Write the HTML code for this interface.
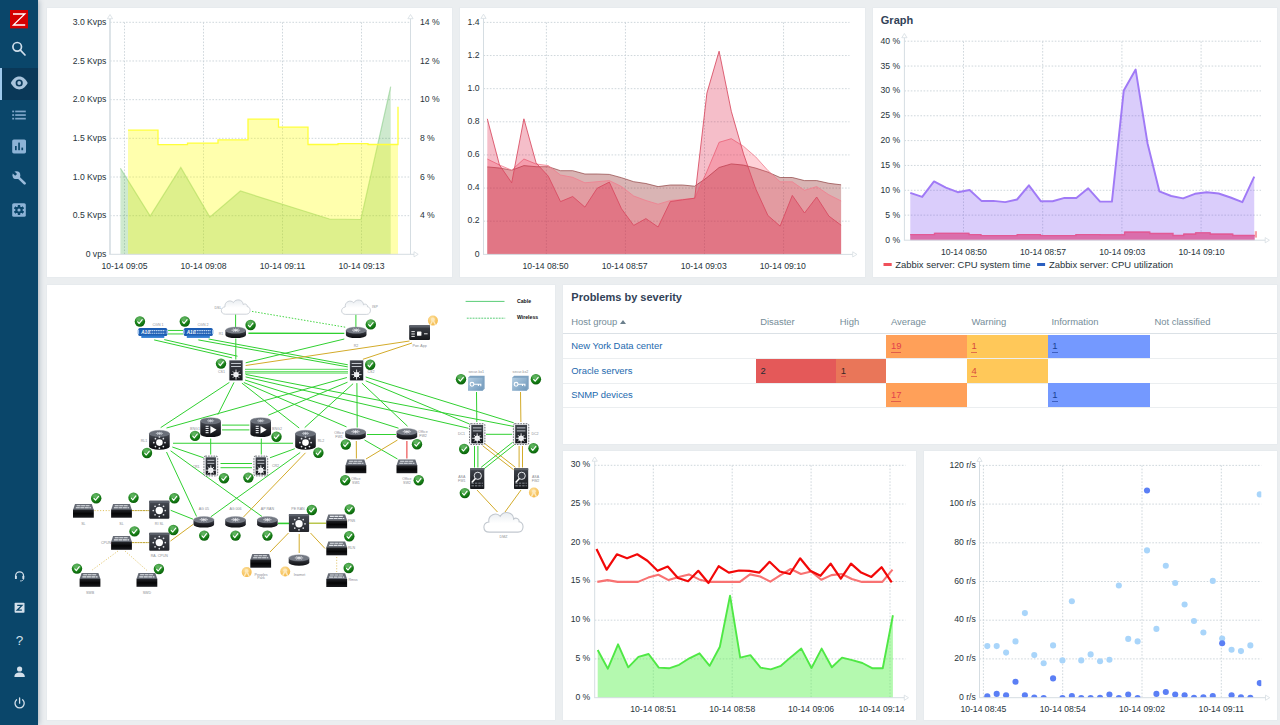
<!DOCTYPE html>
<html lang="en"><head><meta charset="utf-8"><title>Zabbix dashboard</title>
<style>
html,body{margin:0;padding:0}
body{width:1280px;height:725px;overflow:hidden;background:#ebeef0;position:relative;font-family:"Liberation Sans", sans-serif;color:#1f2c33}
.sb{position:absolute;left:0;top:0;width:38px;height:725px;background:#0a466a;box-shadow:0 0 6px rgba(10,40,70,.38)}
.sb .act{position:absolute;left:0;top:67.6px;width:38px;height:32.4px;background:#0a3858}
.sb .act i{position:absolute;left:0;top:0;width:2.4px;height:100%;background:#9ec8ec}
.p{position:absolute;background:#fff;box-shadow:0 0 0 .5px #e3e8eb}
svg.ov{position:absolute;left:0;top:0;width:1280px;height:725px;font-family:"Liberation Sans", sans-serif}
.tb{position:absolute;left:562.8px;top:285px;width:714.6px;height:159px;font-size:9.43px}
.tb div{position:absolute;white-space:nowrap}
.tb .h{color:#768d99;top:30.7px;line-height:12px}
.tb .ln{left:0;width:714.6px;height:1px;background:#ebeef0}
.tb .c{height:23.8px}
.tb .t{line-height:12px}
.tb a{color:#2369ae;text-decoration:none}
.u{display:inline-block;line-height:10.6px;border-bottom:1px solid rgba(200,40,60,.55)}
.ub{border-bottom-color:rgba(20,50,140,.55)}
.tri{display:inline-block;width:0;height:0;border-left:3.1px solid transparent;border-right:3.1px solid transparent;border-bottom:4.5px solid #6b7f8c;margin-left:-.1px;position:relative;top:-.6px}
</style></head><body>

<div class="sb"><div class="act"><i></i></div></div>
<div class="p" style="left:47px;top:8px;width:405px;height:269px"></div>
<div class="p" style="left:459.7px;top:8px;width:405px;height:269px"></div>
<div class="p" style="left:872.6px;top:8px;width:404.8px;height:269px"></div>
<div class="p" style="left:47px;top:285px;width:508.2px;height:435px"></div>
<div class="p" style="left:562.8px;top:285px;width:714.6px;height:159.2px"></div>
<div class="p" style="left:562.8px;top:451px;width:353.4px;height:269px"></div>
<div class="p" style="left:924px;top:451px;width:353.4px;height:269px"></div>
<div class="tb"><div class="h" style="left:8.4px">Host group <i class="tri"></i></div><div class="h" style="left:197.4px">Disaster</div><div class="h" style="left:277px">High</div><div class="h" style="left:328.2px">Average</div><div class="h" style="left:408.7px">Warning</div><div class="h" style="left:488.6px">Information</div><div class="h" style="left:591.6px">Not classified</div><div class="ln" style="top:47.8px;height:1.3px;background:#dbe1e6"></div><div class="ln" style="top:73.2px"></div><div class="ln" style="top:97.6px"></div><div class="ln" style="top:122px"></div><div class="t" style="left:8.4px;top:55.2px"><a>New York Data center</a></div><div class="t" style="left:8.4px;top:79.6px"><a>Oracle servers</a></div><div class="t" style="left:8.4px;top:104px"><a>SNMP devices</a></div><div class="c" style="left:323.5px;top:49.5px;width:80.6px;background:#ffa059"></div><div class="t" style="left:328.1px;top:55.3px;color:#e2404c"><span class="u">19</span></div><div class="c" style="left:404.1px;top:49.5px;width:80.8px;background:#ffc859"></div><div class="t" style="left:408.7px;top:55.3px;color:#d8483c"><span class="u">1</span></div><div class="c" style="left:484.9px;top:49.5px;width:102.3px;background:#7499ff"></div><div class="t" style="left:489.5px;top:55.3px;color:#1a3f94"><span class="u ub">1</span></div><div class="c" style="left:193.1px;top:73.9px;width:80.3px;background:#e45959"></div><div class="t" style="left:197.7px;top:79.7px;color:#1f2c33"><span>2</span></div><div class="c" style="left:273.4px;top:73.9px;width:50.1px;background:#e97659"></div><div class="t" style="left:278px;top:79.7px;color:#3a2626"><span class="u">1</span></div><div class="c" style="left:404.1px;top:73.9px;width:80.8px;background:#ffc859"></div><div class="t" style="left:408.7px;top:79.7px;color:#d8483c"><span class="u">4</span></div><div class="c" style="left:323.5px;top:98.3px;width:80.6px;background:#ffa059"></div><div class="t" style="left:328.1px;top:104.1px;color:#e2404c"><span class="u">17</span></div><div class="c" style="left:484.9px;top:98.3px;width:102.3px;background:#7499ff"></div><div class="t" style="left:489.5px;top:104.1px;color:#1a3f94"><span class="u ub">1</span></div></div>
<svg class="ov" viewBox="0 0 1280 725">
<rect x="10" y="10" width="18" height="18.4" fill="#d40000"/><path d="M13 14 H24.8 L13.4 25 H25.2" fill="none" stroke="#fff" stroke-width="1.3" stroke-linejoin="miter"/><g fill="none" stroke="#cfdeeb" stroke-width="1.7"><circle cx="17.2" cy="46.8" r="4.3"/><path d="M20.4 50.2 L25 55" stroke-linecap="round"/></g><path d="M10.8 83 C13.5 78 16.5 76.6 19.2 76.6 C22 76.6 25 78 27.7 83 C25 88 22 89.4 19.2 89.4 C16.5 89.4 13.5 88 10.8 83 Z" fill="#a9c4dc"/><circle cx="19.2" cy="83" r="3.6" fill="#0b3a5c"/><circle cx="19.2" cy="83" r="1.9" fill="#a9c4dc"/><g fill="#7fa6c9"><rect x="12.2" y="110.6" width="1.9" height="1.7"/><rect x="15.2" y="110.6" width="10.6" height="1.7"/><rect x="12.2" y="114.2" width="1.9" height="1.7"/><rect x="15.2" y="114.2" width="10.6" height="1.7"/><rect x="12.2" y="117.8" width="1.9" height="1.7"/><rect x="15.2" y="117.8" width="10.6" height="1.7"/></g><rect x="12.2" y="139.4" width="13.8" height="14" rx="1.6" fill="#8db3d6"/><g fill="#0a466a"><rect x="15" y="146" width="1.7" height="4.2"/><rect x="18.2" y="142.6" width="1.7" height="7.6"/><rect x="21.4" y="147.6" width="1.7" height="2.6"/></g><path d="M17.6 176.6 L24.6 183.4" stroke="#9bbcdb" stroke-width="2.7" stroke-linecap="round"/><circle cx="16.4" cy="175.2" r="3.9" fill="#9bbcdb"/><rect x="-1.35" y="-6" width="2.7" height="5.6" fill="#0a466a" transform="translate(16.4 175.2) rotate(-45)"/><rect x="12.2" y="203.2" width="13.6" height="13.6" rx="1.6" fill="#8db3d6"/><g transform="translate(19 210)" fill="#0a466a"><rect x="-1.1" y="-5" width="2.2" height="10" transform="rotate(0)"/><rect x="-1.1" y="-5" width="2.2" height="10" transform="rotate(60)"/><rect x="-1.1" y="-5" width="2.2" height="10" transform="rotate(120)"/><rect x="-1.1" y="-5" width="2.2" height="10" transform="rotate(180)"/><rect x="-1.1" y="-5" width="2.2" height="10" transform="rotate(240)"/><rect x="-1.1" y="-5" width="2.2" height="10" transform="rotate(300)"/><circle r="3.5"/><circle r="1.6" fill="#8db3d6"/></g><g transform="translate(19.6 577) scale(0.86) translate(-19.6 -577)"><g fill="none" stroke="#d4e0eb" stroke-width="1.4"><path d="M15 577.5 V575.6 A4.6 4.6 0 0 1 24.2 575.6 V577.5"/><path d="M24.2 579 C24.2 581 22.6 581.6 20.2 581.6" stroke-width="1"/></g><rect x="14.2" y="575.6" width="2.2" height="3.8" rx="0.8" fill="#d4e0eb"/><rect x="22.8" y="575.6" width="2.2" height="3.8" rx="0.8" fill="#d4e0eb"/></g><rect x="14.6" y="602.8" width="9.9" height="9.9" rx="0.8" fill="#d4e0eb"/><path d="M17.2 605.4 H21.9 L17.2 610.2 H21.9" fill="none" stroke="#0a466a" stroke-width="1.3"/><text x="19.6" y="644.6" text-anchor="middle" font-size="13.5" fill="#d4e0eb">?</text><circle cx="19.6" cy="669" r="2.6" fill="#d4e0eb"/><path d="M14.4 677 C14.4 673.4 17 672.4 19.6 672.4 C22.2 672.4 24.8 673.4 24.8 677 Z" fill="#d4e0eb"/><g fill="none" stroke="#d4e0eb" stroke-width="1.3" stroke-linecap="round"><path d="M16.6 699.8 A4.6 4.6 0 1 0 22.6 699.8"/><path d="M19.6 698 V703.2"/></g>
<g stroke="#cad3d8" stroke-width="0.9" stroke-dasharray="1.6 1.6" fill="none"><line x1="110" y1="22.3" x2="410" y2="22.3"/><line x1="110" y1="60.98" x2="410" y2="60.98"/><line x1="110" y1="99.66" x2="410" y2="99.66"/><line x1="110" y1="138.34" x2="410" y2="138.34"/><line x1="110" y1="177.02" x2="410" y2="177.02"/><line x1="110" y1="215.7" x2="410" y2="215.7"/><line x1="124.5" y1="22.3" x2="124.5" y2="254"/><line x1="203.5" y1="22.3" x2="203.5" y2="254"/><line x1="282.5" y1="22.3" x2="282.5" y2="254"/><line x1="361.5" y1="22.3" x2="361.5" y2="254"/></g><polygon points="120.4,254.3 120.4,168.2 150.2,216.1 180.8,167.5 209.8,217.1 240.4,191 329.4,219 360.9,219.5 390.7,86.7 390.7,254.3" fill="#1f9a1f" fill-opacity="0.22"/><polyline points="120.4,168.2 150.2,216.1 180.8,167.5 209.8,217.1 240.4,191 329.4,219 360.9,219.5 390.7,86.7" fill="none" stroke="#7fc97f" stroke-opacity="0.55" stroke-width="1.2"/><polygon points="128,254.3 128,130.2 158,130.2 158,144.6 187.5,144.6 187.5,143.1 218,143.1 218,139.9 248,139.9 248,119.2 278.5,119.2 278.5,127.2 308,127.2 308,144.5 338,144.5 338,143.6 368,143.6 368,144.5 398,144.5 398,106.8 398,254.3" fill="#ffff00" fill-opacity="0.32"/><polyline points="128,130.2 158,130.2 158,144.6 187.5,144.6 187.5,143.1 218,143.1 218,139.9 248,139.9 248,119.2 278.5,119.2 278.5,127.2 308,127.2 308,144.5 338,144.5 338,143.6 368,143.6 368,144.5 398,144.5 398,106.8" fill="none" stroke="#ffff3a" stroke-width="1.3"/><g stroke="#d5dde2" fill="#fff" stroke-width="1.6"><line x1="110" y1="18.5" x2="110" y2="254.3"/><line x1="109.2" y1="254.3" x2="414" y2="254.3" stroke-width="1"/><path d="M110 14.5 l-2.6 4.2 h5.2 z" stroke-width="0.8"/><path d="M418.2 254.3 l-4.2 -2.6 v5.2 z" stroke-width="0.8"/><line x1="410.5" y1="18.5" x2="410.5" y2="254.3" stroke-width="1"/><path d="M410.5 14.5 l-2.6 4.2 h5.2 z" stroke-width="0.8"/></g><text x="106.3" y="25" text-anchor="end" font-size="8.64" fill="#27333a">3.0 Kvps</text><text x="106.3" y="63.68" text-anchor="end" font-size="8.64" fill="#27333a">2.5 Kvps</text><text x="106.3" y="102.36" text-anchor="end" font-size="8.64" fill="#27333a">2.0 Kvps</text><text x="106.3" y="141.04" text-anchor="end" font-size="8.64" fill="#27333a">1.5 Kvps</text><text x="106.3" y="179.72" text-anchor="end" font-size="8.64" fill="#27333a">1.0 Kvps</text><text x="106.3" y="218.4" text-anchor="end" font-size="8.64" fill="#27333a">0.5 Kvps</text><text x="106.3" y="257.08" text-anchor="end" font-size="8.64" fill="#27333a">0 vps</text><text x="419.9" y="25" text-anchor="start" font-size="8.64" fill="#27333a">14 %</text><text x="419.9" y="63.68" text-anchor="start" font-size="8.64" fill="#27333a">12 %</text><text x="419.9" y="102.36" text-anchor="start" font-size="8.64" fill="#27333a">10 %</text><text x="419.9" y="141.04" text-anchor="start" font-size="8.64" fill="#27333a">8 %</text><text x="419.9" y="179.72" text-anchor="start" font-size="8.64" fill="#27333a">6 %</text><text x="419.9" y="218.4" text-anchor="start" font-size="8.64" fill="#27333a">4 %</text><text x="124.5" y="269.3" text-anchor="middle" font-size="8.64" fill="#27333a">10-14 09:05</text><text x="203.5" y="269.3" text-anchor="middle" font-size="8.64" fill="#27333a">10-14 09:08</text><text x="282.5" y="269.3" text-anchor="middle" font-size="8.64" fill="#27333a">10-14 09:11</text><text x="361.5" y="269.3" text-anchor="middle" font-size="8.64" fill="#27333a">10-14 09:13</text>
<g stroke="#cad3d8" stroke-width="0.9" stroke-dasharray="1.6 1.6" fill="none"><line x1="483.5" y1="22.4" x2="849.5" y2="22.4"/><line x1="483.5" y1="55.53" x2="849.5" y2="55.53"/><line x1="483.5" y1="88.66" x2="849.5" y2="88.66"/><line x1="483.5" y1="121.79" x2="849.5" y2="121.79"/><line x1="483.5" y1="154.92" x2="849.5" y2="154.92"/><line x1="483.5" y1="188.05" x2="849.5" y2="188.05"/><line x1="483.5" y1="221.18" x2="849.5" y2="221.18"/><line x1="546.4" y1="22.4" x2="546.4" y2="254"/><line x1="625.45" y1="22.4" x2="625.45" y2="254"/><line x1="704.5" y1="22.4" x2="704.5" y2="254"/><line x1="783.55" y1="22.4" x2="783.55" y2="254"/></g><polygon points="487.3,254.4 487.3,166.9 499.5,168 511.7,170.2 523.9,165.6 536.1,166.7 548.3,166.7 560.5,170.7 572.7,170.7 584.9,174 597.1,174 609.3,174.4 621.5,177.7 633.7,181.7 645.9,183.5 658.1,186.6 670.3,185 682.5,185 694.7,186.2 706.9,177.6 719.1,167.5 731.3,163.9 743.5,165.1 755.7,168.1 767.9,172.1 780.1,177.5 792.3,177.5 804.5,180.6 816.7,180.6 828.9,183.3 841.1,184.8 841.1,254.4" fill="#8b1a1a" fill-opacity="0.33"/><polyline points="487.3,166.9 499.5,168 511.7,170.2 523.9,165.6 536.1,166.7 548.3,166.7 560.5,170.7 572.7,170.7 584.9,174 597.1,174 609.3,174.4 621.5,177.7 633.7,181.7 645.9,183.5 658.1,186.6 670.3,185 682.5,185 694.7,186.2 706.9,177.6 719.1,167.5 731.3,163.9 743.5,165.1 755.7,168.1 767.9,172.1 780.1,177.5 792.3,177.5 804.5,180.6 816.7,180.6 828.9,183.3 841.1,184.8" fill="none" stroke="#8b3a3a" stroke-opacity="0.75" stroke-width="0.9" stroke-linejoin="round"/><polygon points="487.3,254.4 487.3,159 499.5,165 511.7,170.2 523.9,159 536.1,164 548.3,165.6 560.5,175 572.7,177.3 584.9,182.8 597.1,181.7 609.3,180.6 621.5,186.5 633.7,196 645.9,200.5 658.1,204.2 670.3,200.5 682.5,199.4 694.7,198.3 706.9,171.5 719.1,142.3 731.3,138.7 743.5,146.3 755.7,156.9 767.9,170.5 780.1,181.8 792.3,181.8 804.5,190.3 816.7,186.6 828.9,194.8 841.1,200.9 841.1,254.4" fill="#ff5a6e" fill-opacity="0.27"/><polyline points="487.3,159 499.5,165 511.7,170.2 523.9,159 536.1,164 548.3,165.6 560.5,175 572.7,177.3 584.9,182.8 597.1,181.7 609.3,180.6 621.5,186.5 633.7,196 645.9,200.5 658.1,204.2 670.3,200.5 682.5,199.4 694.7,198.3 706.9,171.5 719.1,142.3 731.3,138.7 743.5,146.3 755.7,156.9 767.9,170.5 780.1,181.8 792.3,181.8 804.5,190.3 816.7,186.6 828.9,194.8 841.1,200.9" fill="none" stroke="#f08090" stroke-opacity="0.9" stroke-width="0.9" stroke-linejoin="round"/><polygon points="487.3,254.4 487.3,118.8 499.5,165.1 511.7,182.8 523.9,118.8 536.1,162.9 548.3,176.2 560.5,201.6 572.7,196.5 584.9,207.1 597.1,188.3 609.3,182.1 621.5,208.8 633.7,225.4 645.9,218.6 658.1,227 670.3,201.6 682.5,199.8 694.7,198.2 706.9,93.1 719.1,51.2 731.3,111.3 743.5,153.8 755.7,188.8 767.9,215.5 780.1,226.1 792.3,195.4 804.5,213 816.7,197 828.9,216.1 841.1,225.2 841.1,254.4" fill="#dc143c" fill-opacity="0.28"/><polyline points="487.3,118.8 499.5,165.1 511.7,182.8 523.9,118.8 536.1,162.9 548.3,176.2 560.5,201.6 572.7,196.5 584.9,207.1 597.1,188.3 609.3,182.1 621.5,208.8 633.7,225.4 645.9,218.6 658.1,227 670.3,201.6 682.5,199.8 694.7,198.2 706.9,93.1 719.1,51.2 731.3,111.3 743.5,153.8 755.7,188.8 767.9,215.5 780.1,226.1 792.3,195.4 804.5,213 816.7,197 828.9,216.1 841.1,225.2" fill="none" stroke="#d84a60" stroke-opacity="0.95" stroke-width="0.9" stroke-linejoin="round"/><g stroke="#d5dde2" fill="#fff" stroke-width="1.0"><line x1="483.5" y1="18.2" x2="483.5" y2="254.4"/><line x1="483" y1="254.4" x2="852.7" y2="254.4" stroke-width="1"/><path d="M483.5 14.2 l-2.6 4.2 h5.2 z" stroke-width="0.8"/><path d="M856.9 254.4 l-4.2 -2.6 v5.2 z" stroke-width="0.8"/></g><text x="479.6" y="24.6" text-anchor="end" font-size="8.64" fill="#27333a">1.4</text><text x="479.6" y="57.73" text-anchor="end" font-size="8.64" fill="#27333a">1.2</text><text x="479.6" y="90.86" text-anchor="end" font-size="8.64" fill="#27333a">1.0</text><text x="479.6" y="123.99" text-anchor="end" font-size="8.64" fill="#27333a">0.8</text><text x="479.6" y="157.12" text-anchor="end" font-size="8.64" fill="#27333a">0.6</text><text x="479.6" y="190.25" text-anchor="end" font-size="8.64" fill="#27333a">0.4</text><text x="479.6" y="223.38" text-anchor="end" font-size="8.64" fill="#27333a">0.2</text><text x="479.6" y="256.51" text-anchor="end" font-size="8.64" fill="#27333a">0</text><text x="545.6" y="269.3" text-anchor="middle" font-size="8.64" fill="#27333a">10-14 08:50</text><text x="624.65" y="269.3" text-anchor="middle" font-size="8.64" fill="#27333a">10-14 08:57</text><text x="703.7" y="269.3" text-anchor="middle" font-size="8.64" fill="#27333a">10-14 09:03</text><text x="782.75" y="269.3" text-anchor="middle" font-size="8.64" fill="#27333a">10-14 09:10</text>
<g stroke="#cad3d8" stroke-width="0.9" stroke-dasharray="1.6 1.6" fill="none"><line x1="904.4" y1="41.2" x2="1261" y2="41.2"/><line x1="904.4" y1="66.05" x2="1261" y2="66.05"/><line x1="904.4" y1="90.9" x2="1261" y2="90.9"/><line x1="904.4" y1="115.75" x2="1261" y2="115.75"/><line x1="904.4" y1="140.6" x2="1261" y2="140.6"/><line x1="904.4" y1="165.45" x2="1261" y2="165.45"/><line x1="904.4" y1="190.3" x2="1261" y2="190.3"/><line x1="904.4" y1="215.15" x2="1261" y2="215.15"/><line x1="963.5" y1="41.4" x2="963.5" y2="240"/><line x1="1042.7" y1="41.4" x2="1042.7" y2="240"/><line x1="1121.9" y1="41.4" x2="1121.9" y2="240"/><line x1="1201.1" y1="41.4" x2="1201.1" y2="240"/></g><polygon points="910.3,240.2 910.3,192.8 922.16,196.9 934.02,181.4 945.88,187.6 957.74,192.2 969.6,190 981.46,200.9 993.32,200.9 1005.18,202.1 1017.04,199.5 1028.9,185.3 1040.76,201.2 1052.62,201.2 1064.48,197.9 1076.34,197.9 1088.2,188.3 1100.06,201.6 1111.92,201.6 1123.78,90.4 1135.64,69.6 1147.5,143.2 1159.36,191.3 1171.22,196 1183.08,198.4 1194.94,193.8 1206.8,192.2 1218.66,193.5 1230.52,197.5 1242.38,202.2 1254.24,176.7 1254.24,240.2" fill="#7a4cf0" fill-opacity="0.28"/><polygon points="910.3,240.2 910.3,234 934.5,234 934.5,232.8 969,232.8 969,234 981,234 981,235 1017.2,235 1017.2,234 1040.5,234 1040.5,235 1075.9,235 1075.9,234 1100,234 1100,234.3 1124.6,234.3 1124.6,231.6 1149.8,231.6 1149.8,232.9 1173,232.9 1173,234.9 1183.7,234.9 1183.7,233.6 1195.6,233.6 1195.6,232.3 1210.2,232.3 1210.2,233.6 1232.8,233.6 1232.8,234.9 1254.7,234.9 1254.7,240.2" fill="#da6eac"/><polyline points="910.3,234.6 934.5,234.6 934.5,233.4 969,233.4 969,234.6 981,234.6 981,235.6 1017.2,235.6 1017.2,234.6 1040.5,234.6 1040.5,235.6 1075.9,235.6 1075.9,234.6 1100,234.6 1100,234.9 1124.6,234.9 1124.6,232.2 1149.8,232.2 1149.8,233.5 1173,233.5 1173,235.5 1183.7,235.5 1183.7,234.2 1195.6,234.2 1195.6,232.9 1210.2,232.9 1210.2,234.2 1232.8,234.2 1232.8,235.5 1254.7,235.5" fill="none" stroke="#e25a96" stroke-width="1.4"/><rect x="1254.8" y="231.2" width="2.2" height="6.4" fill="#f4606c" fill-opacity="0.6"/><polyline points="910.3,192.8 922.16,196.9 934.02,181.4 945.88,187.6 957.74,192.2 969.6,190 981.46,200.9 993.32,200.9 1005.18,202.1 1017.04,199.5 1028.9,185.3 1040.76,201.2 1052.62,201.2 1064.48,197.9 1076.34,197.9 1088.2,188.3 1100.06,201.6 1111.92,201.6 1123.78,90.4 1135.64,69.6 1147.5,143.2 1159.36,191.3 1171.22,196 1183.08,198.4 1194.94,193.8 1206.8,192.2 1218.66,193.5 1230.52,197.5 1242.38,202.2 1254.24,176.7" fill="none" stroke="#a07af6" stroke-width="1.95" stroke-linejoin="round"/><g stroke="#d5dde2" fill="#fff" stroke-width="1.0"><line x1="904.4" y1="37.5" x2="904.4" y2="240.2"/><line x1="903.9" y1="240.2" x2="1265.2" y2="240.2" stroke-width="1"/><path d="M904.4 33.5 l-2.6 4.2 h5.2 z" stroke-width="0.8"/><path d="M1269.4 240.2 l-4.2 -2.6 v5.2 z" stroke-width="0.8"/></g><text x="900.2" y="43.7" text-anchor="end" font-size="8.64" fill="#27333a">40 %</text><text x="900.2" y="68.55" text-anchor="end" font-size="8.64" fill="#27333a">35 %</text><text x="900.2" y="93.4" text-anchor="end" font-size="8.64" fill="#27333a">30 %</text><text x="900.2" y="118.25" text-anchor="end" font-size="8.64" fill="#27333a">25 %</text><text x="900.2" y="143.1" text-anchor="end" font-size="8.64" fill="#27333a">20 %</text><text x="900.2" y="167.95" text-anchor="end" font-size="8.64" fill="#27333a">15 %</text><text x="900.2" y="192.8" text-anchor="end" font-size="8.64" fill="#27333a">10 %</text><text x="900.2" y="217.65" text-anchor="end" font-size="8.64" fill="#27333a">5 %</text><text x="900.2" y="242.5" text-anchor="end" font-size="8.64" fill="#27333a">0 %</text><text x="963.9" y="255.1" text-anchor="middle" font-size="8.64" fill="#27333a">10-14 08:50</text><text x="1043.1" y="255.1" text-anchor="middle" font-size="8.64" fill="#27333a">10-14 08:57</text><text x="1122.3" y="255.1" text-anchor="middle" font-size="8.64" fill="#27333a">10-14 09:03</text><text x="1201.5" y="255.1" text-anchor="middle" font-size="8.64" fill="#27333a">10-14 09:10</text><text x="880.8" y="24.2" text-anchor="start" font-size="11" fill="#324257" font-weight="bold">Graph</text><rect x="883.5" y="263" width="8.2" height="3" fill="#f0505a"/><text x="895.3" y="268.3" text-anchor="start" font-size="9.43" fill="#27333a">Zabbix server: CPU system time</text><rect x="1037.1" y="263" width="8" height="3" fill="#2a5fc0"/><text x="1048.9" y="268.3" text-anchor="start" font-size="9.43" fill="#27333a">Zabbix server: CPU utilization</text>
<g stroke="#cad3d8" stroke-width="0.9" stroke-dasharray="1.6 1.6" fill="none"><line x1="594.7" y1="465.3" x2="905.5" y2="465.3"/><line x1="594.7" y1="504.02" x2="905.5" y2="504.02"/><line x1="594.7" y1="542.74" x2="905.5" y2="542.74"/><line x1="594.7" y1="581.46" x2="905.5" y2="581.46"/><line x1="594.7" y1="620.18" x2="905.5" y2="620.18"/><line x1="594.7" y1="658.9" x2="905.5" y2="658.9"/><line x1="653.3" y1="465.3" x2="653.3" y2="697.5"/><line x1="732.2" y1="465.3" x2="732.2" y2="697.5"/><line x1="811.1" y1="465.3" x2="811.1" y2="697.5"/><line x1="890" y1="465.3" x2="890" y2="697.5"/></g><polygon points="597.7,697.7 597.7,650 607.88,668.7 618.06,644.3 628.24,667.3 638.42,656.9 648.6,654 658.78,667.6 668.96,668.3 679.14,664.8 689.32,658.3 699.5,653.3 709.68,665.8 719.86,646.8 730.04,595.6 740.22,657.6 750.4,655.1 760.58,667.6 770.76,669.4 780.94,665.8 791.12,656.9 801.3,648.6 811.48,668 821.66,648.6 831.84,667.3 842.02,657.6 852.2,660.1 862.38,663 872.56,668.3 882.74,668.3 892.92,615.3 892.92,697.7" fill="#5cf250" fill-opacity="0.46"/><polyline points="597.7,650 607.88,668.7 618.06,644.3 628.24,667.3 638.42,656.9 648.6,654 658.78,667.6 668.96,668.3 679.14,664.8 689.32,658.3 699.5,653.3 709.68,665.8 719.86,646.8 730.04,595.6 740.22,657.6 750.4,655.1 760.58,667.6 770.76,669.4 780.94,665.8 791.12,656.9 801.3,648.6 811.48,668 821.66,648.6 831.84,667.3 842.02,657.6 852.2,660.1 862.38,663 872.56,668.3 882.74,668.3 892.92,615.3" fill="none" stroke="#4fe845" stroke-width="1.9" stroke-linejoin="round"/><polyline points="597.3,581.9 607.48,580.1 617.66,581.9 627.84,581.9 638.02,581.9 648.2,577.6 658.38,574.8 668.56,580.1 678.74,576.9 688.92,574.4 699.1,579.4 709.28,581.9 719.46,581.9 729.64,581.9 739.82,581.9 750,574.4 760.18,576.5 770.36,581.6 780.54,575.1 790.72,569 800.9,574 811.08,571.5 821.26,579.8 831.44,575.1 841.62,574 851.8,579 861.98,581.9 872.16,581.9 882.34,581.9 892.52,569.7" fill="none" stroke="#f87272" stroke-width="2.1" stroke-linejoin="round"/><polyline points="596.5,548.9 606.68,569.7 616.86,554.3 627.04,558.3 637.22,554.3 647.4,560.8 657.58,570.8 667.76,566.5 677.94,578 688.12,581.2 698.3,570.8 708.48,583 718.66,566.2 728.84,572.6 739.02,570.5 749.2,570.8 759.38,572.6 769.56,561.8 779.74,571.5 789.92,574 800.1,558.3 810.28,570.8 820.46,575.8 830.64,563.6 840.82,578.7 851,563.6 861.18,572.6 871.36,576.9 881.54,567.2 891.72,582.3" fill="none" stroke="#f20808" stroke-width="2.2" stroke-linejoin="round"/><g stroke="#d5dde2" fill="#fff" stroke-width="1.0"><line x1="594.7" y1="461" x2="594.7" y2="697.7"/><line x1="594.2" y1="697.7" x2="904.3" y2="697.7" stroke-width="1"/><path d="M594.7 457 l-2.6 4.2 h5.2 z" stroke-width="0.8"/><path d="M908.5 697.7 l-4.2 -2.6 v5.2 z" stroke-width="0.8"/></g><text x="590.3" y="467.2" text-anchor="end" font-size="8.64" fill="#27333a">30 %</text><text x="590.3" y="505.92" text-anchor="end" font-size="8.64" fill="#27333a">25 %</text><text x="590.3" y="544.64" text-anchor="end" font-size="8.64" fill="#27333a">20 %</text><text x="590.3" y="583.36" text-anchor="end" font-size="8.64" fill="#27333a">15 %</text><text x="590.3" y="622.08" text-anchor="end" font-size="8.64" fill="#27333a">10 %</text><text x="590.3" y="660.8" text-anchor="end" font-size="8.64" fill="#27333a">5 %</text><text x="590.3" y="699.52" text-anchor="end" font-size="8.64" fill="#27333a">0 %</text><text x="653.3" y="712.2" text-anchor="middle" font-size="8.64" fill="#27333a">10-14 08:51</text><text x="732.2" y="712.2" text-anchor="middle" font-size="8.64" fill="#27333a">10-14 08:58</text><text x="811.1" y="712.2" text-anchor="middle" font-size="8.64" fill="#27333a">10-14 09:06</text><text x="904.6" y="712.2" text-anchor="end" font-size="8.64" fill="#27333a">10-14 09:14</text>
<g stroke="#cad3d8" stroke-width="0.9" stroke-dasharray="1.6 1.6" fill="none"><line x1="979.5" y1="465.4" x2="1261.3" y2="465.4"/><line x1="979.5" y1="504.1" x2="1261.3" y2="504.1"/><line x1="979.5" y1="542.8" x2="1261.3" y2="542.8"/><line x1="979.5" y1="581.5" x2="1261.3" y2="581.5"/><line x1="979.5" y1="620.2" x2="1261.3" y2="620.2"/><line x1="979.5" y1="658.9" x2="1261.3" y2="658.9"/><line x1="983.4" y1="465.4" x2="983.4" y2="697.5"/><line x1="1062.7" y1="465.4" x2="1062.7" y2="697.5"/><line x1="1142" y1="465.4" x2="1142" y2="697.5"/><line x1="1221.3" y1="465.4" x2="1221.3" y2="697.5"/></g><clipPath id="cb2"><rect x="979" y="455" width="282.3" height="242.7"/></clipPath><g clip-path="url(#cb2)"><circle cx="987.3" cy="646.1" r="3.05" fill="#a9d5fa"/><circle cx="996.69" cy="646.1" r="3.05" fill="#a9d5fa"/><circle cx="1006.09" cy="652.6" r="3.05" fill="#a9d5fa"/><circle cx="1015.48" cy="641.4" r="3.05" fill="#a9d5fa"/><circle cx="1024.88" cy="613.1" r="3.05" fill="#a9d5fa"/><circle cx="1034.27" cy="655.1" r="3.05" fill="#a9d5fa"/><circle cx="1043.67" cy="663.3" r="3.05" fill="#a9d5fa"/><circle cx="1053.07" cy="645.4" r="3.05" fill="#a9d5fa"/><circle cx="1062.46" cy="660.4" r="3.05" fill="#a9d5fa"/><circle cx="1071.86" cy="601.3" r="3.05" fill="#a9d5fa"/><circle cx="1081.25" cy="660.4" r="3.05" fill="#a9d5fa"/><circle cx="1090.64" cy="654.4" r="3.05" fill="#a9d5fa"/><circle cx="1100.04" cy="661.2" r="3.05" fill="#a9d5fa"/><circle cx="1109.43" cy="659.7" r="3.05" fill="#a9d5fa"/><circle cx="1118.83" cy="585.5" r="3.05" fill="#a9d5fa"/><circle cx="1128.22" cy="638.9" r="3.05" fill="#a9d5fa"/><circle cx="1137.62" cy="641.4" r="3.05" fill="#a9d5fa"/><circle cx="1147.01" cy="550.4" r="3.05" fill="#a9d5fa"/><circle cx="1156.41" cy="628.9" r="3.05" fill="#a9d5fa"/><circle cx="1165.8" cy="565.8" r="3.05" fill="#a9d5fa"/><circle cx="1175.2" cy="583" r="3.05" fill="#a9d5fa"/><circle cx="1184.6" cy="604.5" r="3.05" fill="#a9d5fa"/><circle cx="1193.99" cy="621" r="3.05" fill="#a9d5fa"/><circle cx="1203.38" cy="632.5" r="3.05" fill="#a9d5fa"/><circle cx="1212.78" cy="580.9" r="3.05" fill="#a9d5fa"/><circle cx="1222.17" cy="638.6" r="3.05" fill="#a9d5fa"/><circle cx="1231.57" cy="649.7" r="3.05" fill="#a9d5fa"/><circle cx="1240.96" cy="651.1" r="3.05" fill="#a9d5fa"/><circle cx="1250.36" cy="645.4" r="3.05" fill="#a9d5fa"/><circle cx="1259.75" cy="494.4" r="3.05" fill="#a9d5fa"/><circle cx="987.3" cy="696.2" r="3.05" fill="#5b7ff5"/><circle cx="996.69" cy="693.9" r="3.05" fill="#5b7ff5"/><circle cx="1006.09" cy="695.2" r="3.05" fill="#5b7ff5"/><circle cx="1015.48" cy="681.7" r="3.05" fill="#5b7ff5"/><circle cx="1024.88" cy="695.2" r="3.05" fill="#5b7ff5"/><circle cx="1034.27" cy="697.6" r="3.05" fill="#5b7ff5"/><circle cx="1043.67" cy="698" r="3.05" fill="#5b7ff5"/><circle cx="1053.07" cy="678.4" r="3.05" fill="#5b7ff5"/><circle cx="1062.46" cy="698" r="3.05" fill="#5b7ff5"/><circle cx="1071.86" cy="696" r="3.05" fill="#5b7ff5"/><circle cx="1081.25" cy="698" r="3.05" fill="#5b7ff5"/><circle cx="1090.64" cy="698" r="3.05" fill="#5b7ff5"/><circle cx="1100.04" cy="697.8" r="3.05" fill="#5b7ff5"/><circle cx="1109.43" cy="694.6" r="3.05" fill="#5b7ff5"/><circle cx="1118.83" cy="698" r="3.05" fill="#5b7ff5"/><circle cx="1128.22" cy="694.6" r="3.05" fill="#5b7ff5"/><circle cx="1137.62" cy="698" r="3.05" fill="#5b7ff5"/><circle cx="1147.01" cy="490.5" r="3.05" fill="#5b7ff5"/><circle cx="1156.41" cy="693.9" r="3.05" fill="#5b7ff5"/><circle cx="1165.8" cy="692" r="3.05" fill="#5b7ff5"/><circle cx="1175.2" cy="694.5" r="3.05" fill="#5b7ff5"/><circle cx="1184.6" cy="695.2" r="3.05" fill="#5b7ff5"/><circle cx="1193.99" cy="697.7" r="3.05" fill="#5b7ff5"/><circle cx="1203.38" cy="697.4" r="3.05" fill="#5b7ff5"/><circle cx="1212.78" cy="696" r="3.05" fill="#5b7ff5"/><circle cx="1222.17" cy="643.2" r="3.05" fill="#5b7ff5"/><circle cx="1231.57" cy="695.3" r="3.05" fill="#5b7ff5"/><circle cx="1240.96" cy="697.2" r="3.05" fill="#5b7ff5"/><circle cx="1250.36" cy="697.7" r="3.05" fill="#5b7ff5"/><circle cx="1259.75" cy="683.1" r="3.05" fill="#5b7ff5"/></g><g stroke="#d5dde2" fill="#fff" stroke-width="1.0"><line x1="979.5" y1="461.2" x2="979.5" y2="697.7"/><line x1="979" y1="697.7" x2="1265.5" y2="697.7" stroke-width="1"/><path d="M979.5 457.2 l-2.6 4.2 h5.2 z" stroke-width="0.8"/><path d="M1269.7 697.7 l-4.2 -2.6 v5.2 z" stroke-width="0.8"/></g><text x="975.8" y="467.5" text-anchor="end" font-size="8.64" fill="#27333a">120 r/s</text><text x="975.8" y="506.2" text-anchor="end" font-size="8.64" fill="#27333a">100 r/s</text><text x="975.8" y="544.9" text-anchor="end" font-size="8.64" fill="#27333a">80 r/s</text><text x="975.8" y="583.6" text-anchor="end" font-size="8.64" fill="#27333a">60 r/s</text><text x="975.8" y="622.3" text-anchor="end" font-size="8.64" fill="#27333a">40 r/s</text><text x="975.8" y="661" text-anchor="end" font-size="8.64" fill="#27333a">20 r/s</text><text x="975.8" y="699.7" text-anchor="end" font-size="8.64" fill="#27333a">0 r/s</text><text x="983.4" y="712.2" text-anchor="middle" font-size="8.64" fill="#27333a">10-14 08:45</text><text x="1062.7" y="712.2" text-anchor="middle" font-size="8.64" fill="#27333a">10-14 08:54</text><text x="1142" y="712.2" text-anchor="middle" font-size="8.64" fill="#27333a">10-14 09:02</text><text x="1221.3" y="712.2" text-anchor="middle" font-size="8.64" fill="#27333a">10-14 09:11</text>
<text x="571.3" y="301.2" text-anchor="start" font-size="11" fill="#324257" font-weight="bold">Problems by severity</text>
<defs><linearGradient id="gcyl" x1="0" y1="0" x2="0" y2="1"><stop offset="0" stop-color="#4a4e58"/><stop offset="0.5" stop-color="#26282e"/><stop offset="1" stop-color="#0c0d10"/></linearGradient><linearGradient id="gbox" x1="0" y1="0" x2="0" y2="1"><stop offset="0" stop-color="#40444c"/><stop offset="1" stop-color="#15171b"/></linearGradient><linearGradient id="gsw" x1="0" y1="0" x2="0" y2="1"><stop offset="0" stop-color="#23252a"/><stop offset="0.5" stop-color="#050506"/><stop offset="1" stop-color="#1a1b1f"/></linearGradient><linearGradient id="gcloud" x1="0" y1="0" x2="0" y2="1"><stop offset="0" stop-color="#e9edf1"/><stop offset="0.55" stop-color="#ffffff"/></linearGradient><linearGradient id="gkey" x1="0" y1="0" x2="1" y2="1"><stop offset="0" stop-color="#b4cee3"/><stop offset="1" stop-color="#6f98bb"/></linearGradient><radialGradient id="gchk" cx="0.42" cy="0.3" r="0.75"><stop offset="0" stop-color="#45ad45"/><stop offset="0.6" stop-color="#188118"/><stop offset="1" stop-color="#075907"/></radialGradient><linearGradient id="grb" x1="0" y1="0" x2="0" y2="1"><stop offset="0" stop-color="#474b54"/><stop offset="1" stop-color="#24262c"/></linearGradient><radialGradient id="gwrn" cx="0.4" cy="0.3" r="0.8"><stop offset="0" stop-color="#fde09c"/><stop offset="1" stop-color="#f3b440"/></radialGradient></defs><g fill="none" stroke-linecap="butt"><line x1="465.6" y1="301.4" x2="504.5" y2="301.4" stroke="#3cc45e" stroke-width="0.85"/><line x1="466.8" y1="318.2" x2="505.2" y2="318.2" stroke="#3cc45e" stroke-width="0.85" stroke-dasharray="1.9 1"/><line x1="235.6" y1="314" x2="235.6" y2="327" stroke="#30d030" stroke-width="1.0"/><line x1="355.9" y1="314" x2="355.9" y2="327" stroke="#30d030" stroke-width="1.0"/><line x1="252" y1="311.4" x2="346.5" y2="327.4" stroke="#30d030" stroke-width="0.9" stroke-dasharray="1.5 1.6"/><line x1="248.4" y1="333.2" x2="344.3" y2="333.4" stroke="#30d030" stroke-width="1.4"/><line x1="167.5" y1="333.95" x2="183.4" y2="333.95" stroke="#30d030" stroke-width="1.0"/><line x1="167.5" y1="330.45" x2="183.4" y2="330.45" stroke="#30d030" stroke-width="1.0"/><line x1="235.8" y1="338.5" x2="235.8" y2="359.5" stroke="#30d030" stroke-width="1.0"/><line x1="154.1" y1="339.9" x2="232.1" y2="357.9" stroke="#30d030" stroke-width="1.0"/><line x1="164.2" y1="339.6" x2="237.5" y2="356.2" stroke="#30d030" stroke-width="1.0"/><line x1="198.3" y1="339.9" x2="347.8" y2="366.9" stroke="#30d030" stroke-width="1.0"/><line x1="208.6" y1="339" x2="347.8" y2="364.8" stroke="#30d030" stroke-width="1.0"/><line x1="344.3" y1="339" x2="245.7" y2="362.8" stroke="#30d030" stroke-width="1.0"/><line x1="245.7" y1="365.5" x2="409.5" y2="341" stroke="#d3ab2a" stroke-width="1.0"/><line x1="362.9" y1="359.3" x2="412" y2="343" stroke="#d3ab2a" stroke-width="1.0"/><line x1="245" y1="369.3" x2="348" y2="369.3" stroke="#30d030" stroke-width="0.8"/><line x1="245" y1="371.7" x2="348" y2="371.7" stroke="#30d030" stroke-width="0.8"/><line x1="245" y1="373.1" x2="348" y2="373.1" stroke="#30d030" stroke-width="0.8"/><line x1="229.4" y1="382.4" x2="160.7" y2="427.6" stroke="#30d030" stroke-width="1.0"/><line x1="234" y1="382.4" x2="217.8" y2="414.7" stroke="#30d030" stroke-width="1.0"/><line x1="241.9" y1="383.1" x2="299.2" y2="428" stroke="#30d030" stroke-width="1.0"/><line x1="243.8" y1="382.5" x2="346.5" y2="426.9" stroke="#30d030" stroke-width="1.0"/><line x1="245" y1="380" x2="398.5" y2="428.2" stroke="#30d030" stroke-width="1.0"/><line x1="245.6" y1="376.9" x2="468.5" y2="428.3" stroke="#30d030" stroke-width="1.0"/><line x1="245.6" y1="374.4" x2="513.5" y2="426.4" stroke="#30d030" stroke-width="1.0"/><line x1="346.9" y1="377.5" x2="166.5" y2="428" stroke="#30d030" stroke-width="1.0"/><line x1="347.5" y1="382.2" x2="268.3" y2="415.2" stroke="#30d030" stroke-width="1.0"/><line x1="353.1" y1="383.7" x2="304.7" y2="427.6" stroke="#30d030" stroke-width="1.0"/><line x1="356.9" y1="383.1" x2="357.2" y2="427.5" stroke="#30d030" stroke-width="1.0"/><line x1="361.9" y1="383.1" x2="407.5" y2="426.2" stroke="#30d030" stroke-width="1.0"/><line x1="365.7" y1="380.8" x2="469.5" y2="424" stroke="#30d030" stroke-width="1.0"/><line x1="365.7" y1="377" x2="513.8" y2="422.8" stroke="#30d030" stroke-width="1.0"/><line x1="222" y1="429.9" x2="249.4" y2="429.9" stroke="#30d030" stroke-width="1.0"/><line x1="222" y1="425.1" x2="249.4" y2="425.1" stroke="#30d030" stroke-width="1.0"/><line x1="220.5" y1="467.7" x2="252" y2="467.7" stroke="#30d030" stroke-width="1.0"/><line x1="220.5" y1="463.5" x2="252" y2="463.5" stroke="#30d030" stroke-width="1.0"/><line x1="173" y1="443.2" x2="293" y2="443.2" stroke="#30d030" stroke-width="1.1"/><line x1="210.7" y1="438.6" x2="210.7" y2="454.5" stroke="#30d030" stroke-width="1.0"/><line x1="261.3" y1="438.6" x2="261.3" y2="454.5" stroke="#30d030" stroke-width="1.0"/><line x1="172.3" y1="447" x2="203.7" y2="457.8" stroke="#30d030" stroke-width="1.0"/><line x1="294.8" y1="448.7" x2="269.9" y2="457.8" stroke="#30d030" stroke-width="1.0"/><line x1="166.5" y1="452" x2="196.6" y2="516.5" stroke="#30d030" stroke-width="1.0"/><line x1="170.6" y1="450.8" x2="262" y2="516.5" stroke="#30d030" stroke-width="1.0"/><line x1="300.2" y1="452.5" x2="210.8" y2="516.8" stroke="#30d030" stroke-width="1.0"/><line x1="305.5" y1="452.8" x2="243.5" y2="517" stroke="#d3ab2a" stroke-width="1.0"/><line x1="367" y1="434.5" x2="396" y2="434.5" stroke="#30d030" stroke-width="1.0"/><line x1="356.3" y1="441" x2="356.4" y2="458.5" stroke="#d3ab2a" stroke-width="1.0"/><line x1="406.9" y1="441" x2="406.9" y2="458.5" stroke="#e83030" stroke-width="1.0"/><line x1="364.5" y1="440" x2="397.5" y2="459" stroke="#30d030" stroke-width="1.0"/><line x1="397.5" y1="440" x2="366" y2="459" stroke="#d3ab2a" stroke-width="1.0"/><line x1="476.5" y1="392" x2="476.8" y2="422" stroke="#30d030" stroke-width="1.0"/><line x1="520.5" y1="392" x2="520.9" y2="422" stroke="#d3ab2a" stroke-width="1.0"/><line x1="486" y1="434.3" x2="512" y2="434.3" stroke="#30d030" stroke-width="1.0"/><line x1="474.5" y1="446" x2="474.5" y2="467.5" stroke="#30d030" stroke-width="1.0"/><line x1="477.9" y1="446" x2="477.9" y2="467.5" stroke="#30d030" stroke-width="1.0"/><line x1="519.1" y1="446" x2="519.1" y2="467.5" stroke="#d3ab2a" stroke-width="1.0"/><line x1="522.5" y1="446" x2="522.5" y2="467.5" stroke="#d3ab2a" stroke-width="1.0"/><line x1="482.58" y1="445.69" x2="513.58" y2="469.69" stroke="#d3ab2a" stroke-width="1.0"/><line x1="484.42" y1="443.31" x2="515.42" y2="467.31" stroke="#d3ab2a" stroke-width="1.0"/><line x1="512.57" y1="442.33" x2="481.07" y2="467.33" stroke="#30d030" stroke-width="1.0"/><line x1="514.43" y1="444.67" x2="482.93" y2="469.67" stroke="#30d030" stroke-width="1.0"/><line x1="477" y1="490" x2="497.5" y2="512" stroke="#d3ab2a" stroke-width="1.0"/><line x1="521" y1="490" x2="505" y2="512" stroke="#d3ab2a" stroke-width="1.0"/><line x1="94.5" y1="510.6" x2="110.5" y2="510.6" stroke="#d3ab2a" stroke-width="0.75" stroke-dasharray="1.1 1.7"/><line x1="132" y1="510.6" x2="149.5" y2="510.6" stroke="#b89a18" stroke-width="0.9" stroke-dasharray="2.2 0.5"/><line x1="132" y1="542.6" x2="149.5" y2="542.6" stroke="#b89a18" stroke-width="0.9" stroke-dasharray="2.2 0.5"/><line x1="170.7" y1="510.3" x2="193" y2="519.2" stroke="#30d030" stroke-width="1.0"/><line x1="170.5" y1="541" x2="193.2" y2="524.3" stroke="#d3ab2a" stroke-width="1.0"/><line x1="118" y1="551" x2="91.5" y2="570.5" stroke="#d3ab2a" stroke-width="0.7" stroke-dasharray="1.1 1.7"/><line x1="125" y1="551" x2="147" y2="570.5" stroke="#d3ab2a" stroke-width="0.7" stroke-dasharray="1.1 1.7"/><line x1="278" y1="523.4" x2="289" y2="523.4" stroke="#30d030" stroke-width="1.6"/><line x1="309" y1="523.2" x2="326" y2="523.2" stroke="#a8b820" stroke-width="1.2"/><line x1="310.5" y1="533" x2="325" y2="548.5" stroke="#d3ab2a" stroke-width="1.0"/><line x1="288.5" y1="533" x2="270" y2="552" stroke="#d3ab2a" stroke-width="1.0"/><line x1="299.2" y1="534" x2="299.2" y2="553" stroke="#d3ab2a" stroke-width="1.0"/><line x1="336.7" y1="557" x2="336.7" y2="572" stroke="#d3ab2a" stroke-width="0.7" stroke-dasharray="1.1 1.7"/></g><g transform="translate(235.6 307.2) scale(1)"><path d="M-10.2 7 C-15.5 7 -15.6 0.2 -10.6 -0.4 C-11.4 -5.6 -5.2 -8.2 -2.2 -4.6 C0.2 -9 7.4 -8 7.6 -2.6 C9 -4 12 -3 11.6 -0.6 C15.6 -0.4 15.6 7 10.8 7 Z" fill="url(#gcloud)" stroke="#c2c8cf" stroke-width="0.8"/></g><g transform="translate(355.9 307.4) scale(1)"><path d="M-10.2 7 C-15.5 7 -15.6 0.2 -10.6 -0.4 C-11.4 -5.6 -5.2 -8.2 -2.2 -4.6 C0.2 -9 7.4 -8 7.6 -2.6 C9 -4 12 -3 11.6 -0.6 C15.6 -0.4 15.6 7 10.8 7 Z" fill="url(#gcloud)" stroke="#c2c8cf" stroke-width="0.8"/></g><g transform="translate(503.3 522.6) scale(1.36)"><path d="M-10.2 7 C-15.5 7 -15.6 0.2 -10.6 -0.4 C-11.4 -5.6 -5.2 -8.2 -2.2 -4.6 C0.2 -9 7.4 -8 7.6 -2.6 C9 -4 12 -3 11.6 -0.6 C15.6 -0.4 15.6 7 10.8 7 Z" fill="url(#gcloud)" stroke="#c2c8cf" stroke-width="0.8"/></g><rect x="138.3" y="327.9" width="29" height="8.2" rx="1.6" fill="#1c5db3"/><rect x="141.3" y="335.5" width="23" height="2.4" fill="#2f7bd0"/><rect x="137.5" y="329.9" width="1.6" height="4" fill="#9fc2ea"/><rect x="166.5" y="329.9" width="1.6" height="4" fill="#9fc2ea"/><text x="141.3" y="334" text-anchor="start" font-size="4.6" fill="#fff" font-weight="bold" font-style="italic">A10</text><path d="M149.3 330.6 h16 M149.3 333.3 h16" stroke="#bcd6f2" stroke-width="1.1" stroke-dasharray="1.6 0.6"/><rect x="183.8" y="327.9" width="29" height="8.2" rx="1.6" fill="#1c5db3"/><rect x="186.8" y="335.5" width="23" height="2.4" fill="#2f7bd0"/><rect x="183" y="329.9" width="1.6" height="4" fill="#9fc2ea"/><rect x="212" y="329.9" width="1.6" height="4" fill="#9fc2ea"/><text x="186.8" y="334" text-anchor="start" font-size="4.6" fill="#fff" font-weight="bold" font-style="italic">A10</text><path d="M194.8 330.6 h16 M194.8 333.3 h16" stroke="#bcd6f2" stroke-width="1.1" stroke-dasharray="1.6 0.6"/><path d="M225.4 330.1 v4.8 a10.3 3.2 0 0 0 20.6 0 v-4.8 z" fill="url(#gcyl)"/><ellipse cx="235.7" cy="330.2" rx="10.1" ry="3.1" fill="#747983" stroke="#90959f" stroke-width="0.4"/><path d="M231.5 330.2 h8.4 M235.7 328.3 v3.8 M232.9 328.8 l5.6 2.8 M238.5 328.8 l-5.6 2.8" stroke="#eceef2" stroke-width="0.7" fill="none"/><path d="M345.9 330.1 v4.8 a10.3 3.2 0 0 0 20.6 0 v-4.8 z" fill="url(#gcyl)"/><ellipse cx="356.2" cy="330.2" rx="10.1" ry="3.1" fill="#747983" stroke="#90959f" stroke-width="0.4"/><path d="M352 330.2 h8.4 M356.2 328.3 v3.8 M353.4 328.8 l5.6 2.8 M359 328.8 l-5.6 2.8" stroke="#eceef2" stroke-width="0.7" fill="none"/><rect x="409.2" y="325.3" width="20.8" height="14.6" rx="1" fill="url(#gbox)"/><rect x="409.2" y="325.3" width="20.8" height="2.2" fill="#5a5f68"/><rect x="417" y="331.6" width="4.4" height="4.2" rx="0.6" fill="#fff"/><path d="M411.4 331.6 h3.4 M411.4 334 h3.4 M411.4 336.4 h3.4 M427.6 333.8 h-3.6" stroke="#fff" stroke-width="0.9"/><rect x="228.9" y="360.1" width="14.2" height="20.6" rx="1" fill="#c8ccd3"/><rect x="229.5" y="360.5" width="13" height="19.8" fill="url(#gbox)"/><path d="M231.1 363.5 h9.8 M231.1 366.5 h9.8" stroke="#c3c7ce" stroke-width="1"/><circle cx="236" cy="374.6" r="2.7" fill="#fff"/><path d="M231 374.6 h10 M236 369.6 v10 M232.8 371.4 l6.4 6.4 M239.2 371.4 l-6.4 6.4" stroke="#e8eaee" stroke-width="0.9"/><rect x="349.5" y="360.1" width="14.2" height="20.6" rx="1" fill="#c8ccd3"/><rect x="350.1" y="360.5" width="13" height="19.8" fill="url(#gbox)"/><path d="M351.7 363.5 h9.8 M351.7 366.5 h9.8" stroke="#c3c7ce" stroke-width="1"/><circle cx="356.6" cy="374.6" r="2.7" fill="#fff"/><path d="M351.6 374.6 h10 M356.6 369.6 v10 M353.4 371.4 l6.4 6.4 M359.8 371.4 l-6.4 6.4" stroke="#e8eaee" stroke-width="0.9"/><path d="M468 377.8 l2 -2 h14.6 v13 l-2 2 z" fill="#7fa3c2"/><rect x="468" y="377.8" width="14.6" height="13" fill="url(#gkey)"/><circle cx="472" cy="384.3" r="1.9" fill="none" stroke="#fff" stroke-width="1.1"/><path d="M473.8 384.3 h7 v2 m-2.4 -2 v1.6" stroke="#fff" stroke-width="1.1" fill="none"/><path d="M512.1 377.8 l2 -2 h14.6 v13 l-2 2 z" fill="#7fa3c2"/><rect x="512.1" y="377.8" width="14.6" height="13" fill="url(#gkey)"/><circle cx="516.1" cy="384.3" r="1.9" fill="none" stroke="#fff" stroke-width="1.1"/><path d="M517.9 384.3 h7 v2 m-2.4 -2 v1.6" stroke="#fff" stroke-width="1.1" fill="none"/><path d="M149.1 433.3 v13.2 a10.3 3.2 0 0 0 20.6 0 v-13.2 z" fill="url(#gcyl)"/><ellipse cx="159.4" cy="433.4" rx="10.1" ry="3.1" fill="#6a6f79" stroke="#8a8f99" stroke-width="0.4"/><path d="M155.83 433.4 h7.14 M159.4 431.79 v3.23 M157.02 432.21 l4.76 2.38 M161.78 432.21 l-4.76 2.38" stroke="#d4d8df" stroke-width="0.7" fill="none"/><circle cx="159.4" cy="442.6" r="3.3" fill="#fff"/><circle cx="165" cy="442.6" r="0.85" fill="#e4e6ea"/><circle cx="163.36" cy="446.56" r="0.85" fill="#e4e6ea"/><circle cx="159.4" cy="448.2" r="0.85" fill="#e4e6ea"/><circle cx="155.44" cy="446.56" r="0.85" fill="#e4e6ea"/><circle cx="153.8" cy="442.6" r="0.85" fill="#e4e6ea"/><circle cx="155.44" cy="438.64" r="0.85" fill="#e4e6ea"/><circle cx="159.4" cy="437" r="0.85" fill="#e4e6ea"/><circle cx="163.36" cy="438.64" r="0.85" fill="#e4e6ea"/><path d="M295.2 433.3 v13.2 a10.3 3.2 0 0 0 20.6 0 v-13.2 z" fill="url(#gcyl)"/><ellipse cx="305.5" cy="433.4" rx="10.1" ry="3.1" fill="#6a6f79" stroke="#8a8f99" stroke-width="0.4"/><path d="M301.93 433.4 h7.14 M305.5 431.79 v3.23 M303.12 432.21 l4.76 2.38 M307.88 432.21 l-4.76 2.38" stroke="#d4d8df" stroke-width="0.7" fill="none"/><circle cx="305.5" cy="442.6" r="3.3" fill="#fff"/><circle cx="311.1" cy="442.6" r="0.85" fill="#e4e6ea"/><circle cx="309.46" cy="446.56" r="0.85" fill="#e4e6ea"/><circle cx="305.5" cy="448.2" r="0.85" fill="#e4e6ea"/><circle cx="301.54" cy="446.56" r="0.85" fill="#e4e6ea"/><circle cx="299.9" cy="442.6" r="0.85" fill="#e4e6ea"/><circle cx="301.54" cy="438.64" r="0.85" fill="#e4e6ea"/><circle cx="305.5" cy="437" r="0.85" fill="#e4e6ea"/><circle cx="309.46" cy="438.64" r="0.85" fill="#e4e6ea"/><path d="M200.3 420.7 v13.2 a10.3 3.2 0 0 0 20.6 0 v-13.2 z" fill="url(#gcyl)"/><ellipse cx="210.6" cy="420.8" rx="10.1" ry="3.1" fill="#6a6f79" stroke="#8a8f99" stroke-width="0.4"/><path d="M207.03 420.8 h7.14 M210.6 419.19 v3.23 M208.22 419.61 l4.76 2.38 M212.98 419.61 l-4.76 2.38" stroke="#d4d8df" stroke-width="0.7" fill="none"/><path d="M210.4 426 l6.2 3.7 l-6.2 3.7 z" fill="#fff"/><rect x="205.6" y="425.8" width="3" height="1.1" fill="#e8eaee"/><rect x="205.6" y="427.9" width="3" height="1.1" fill="#e8eaee"/><rect x="205.6" y="430" width="3" height="1.1" fill="#e8eaee"/><rect x="205.6" y="432.1" width="3" height="1.1" fill="#e8eaee"/><path d="M250.4 420.7 v13.2 a10.3 3.2 0 0 0 20.6 0 v-13.2 z" fill="url(#gcyl)"/><ellipse cx="260.7" cy="420.8" rx="10.1" ry="3.1" fill="#6a6f79" stroke="#8a8f99" stroke-width="0.4"/><path d="M257.13 420.8 h7.14 M260.7 419.19 v3.23 M258.32 419.61 l4.76 2.38 M263.08 419.61 l-4.76 2.38" stroke="#d4d8df" stroke-width="0.7" fill="none"/><path d="M260.5 426 l6.2 3.7 l-6.2 3.7 z" fill="#fff"/><rect x="255.7" y="425.8" width="3" height="1.1" fill="#e8eaee"/><rect x="255.7" y="427.9" width="3" height="1.1" fill="#e8eaee"/><rect x="255.7" y="430" width="3" height="1.1" fill="#e8eaee"/><rect x="255.7" y="432.1" width="3" height="1.1" fill="#e8eaee"/><rect x="203.9" y="456.1" width="13.8" height="19.8" rx="1.5" fill="#eef0f3" stroke="#3a3d44" stroke-width="0.7" stroke-dasharray="1.6 1.1"/><rect x="205.7" y="457.3" width="10.2" height="17.4" fill="url(#gbox)"/><path d="M207.3 460.3 h7 M207.3 463.3 h7" stroke="#c3c7ce" stroke-width="1"/><circle cx="210.8" cy="470.2" r="2.7" fill="#fff"/><path d="M205.8 470.2 h10 M210.8 465.2 v10 M207.6 467 l6.4 6.4 M214 467 l-6.4 6.4" stroke="#e8eaee" stroke-width="0.9"/><rect x="253.9" y="456.1" width="13.8" height="19.8" rx="1.5" fill="#eef0f3" stroke="#3a3d44" stroke-width="0.7" stroke-dasharray="1.6 1.1"/><rect x="255.7" y="457.3" width="10.2" height="17.4" fill="url(#gbox)"/><path d="M257.3 460.3 h7 M257.3 463.3 h7" stroke="#c3c7ce" stroke-width="1"/><circle cx="260.8" cy="470.2" r="2.7" fill="#fff"/><path d="M255.8 470.2 h10 M260.8 465.2 v10 M257.6 467 l6.4 6.4 M264 467 l-6.4 6.4" stroke="#e8eaee" stroke-width="0.9"/><path d="M345.2 431.6 v4.8 a10.3 3.2 0 0 0 20.6 0 v-4.8 z" fill="url(#gcyl)"/><ellipse cx="355.5" cy="431.7" rx="10.1" ry="3.1" fill="#747983" stroke="#90959f" stroke-width="0.4"/><path d="M351.3 431.7 h8.4 M355.5 429.8 v3.8 M352.7 430.3 l5.6 2.8 M358.3 430.3 l-5.6 2.8" stroke="#eceef2" stroke-width="0.7" fill="none"/><path d="M396.6 431.6 v4.8 a10.3 3.2 0 0 0 20.6 0 v-4.8 z" fill="url(#gcyl)"/><ellipse cx="406.9" cy="431.7" rx="10.1" ry="3.1" fill="#747983" stroke="#90959f" stroke-width="0.4"/><path d="M402.7 431.7 h8.4 M406.9 429.8 v3.8 M404.1 430.3 l5.6 2.8 M409.7 430.3 l-5.6 2.8" stroke="#eceef2" stroke-width="0.7" fill="none"/><path d="M345.5 465.4 l2 -6 h16.8 l2 6 z" fill="#676c76"/><path d="M349.1 461.2 h13.6 M348.3 463.3 h15.2" stroke="#e2e5ea" stroke-width="1.1" stroke-dasharray="4 0.5"/><rect x="345.5" y="465.2" width="20.8" height="8" fill="url(#gsw)"/><path d="M396.5 465.4 l2 -6 h16.8 l2 6 z" fill="#676c76"/><path d="M400.1 461.2 h13.6 M399.3 463.3 h15.2" stroke="#e2e5ea" stroke-width="1.1" stroke-dasharray="4 0.5"/><rect x="396.5" y="465.2" width="20.8" height="8" fill="url(#gsw)"/><rect x="469.5" y="423.7" width="15.4" height="20.8" rx="1.5" fill="#eef0f3" stroke="#3a3d44" stroke-width="0.7" stroke-dasharray="1.6 1.1"/><rect x="471.3" y="424.9" width="11.8" height="18.4" fill="url(#gbox)"/><path d="M472.9 427.9 h8.6 M472.9 430.9 h8.6" stroke="#c3c7ce" stroke-width="1"/><circle cx="477.2" cy="438.3" r="2.7" fill="#fff"/><path d="M472.2 438.3 h10 M477.2 433.3 v10 M474 435.1 l6.4 6.4 M480.4 435.1 l-6.4 6.4" stroke="#e8eaee" stroke-width="0.9"/><rect x="513.4" y="423.7" width="15.4" height="20.8" rx="1.5" fill="#eef0f3" stroke="#3a3d44" stroke-width="0.7" stroke-dasharray="1.6 1.1"/><rect x="515.2" y="424.9" width="11.8" height="18.4" fill="url(#gbox)"/><path d="M516.8 427.9 h8.6 M516.8 430.9 h8.6" stroke="#c3c7ce" stroke-width="1"/><circle cx="521.1" cy="438.3" r="2.7" fill="#fff"/><path d="M516.1 438.3 h10 M521.1 433.3 v10 M517.9 435.1 l6.4 6.4 M524.3 435.1 l-6.4 6.4" stroke="#e8eaee" stroke-width="0.9"/><rect x="470.1" y="468.2" width="14.2" height="20.8" rx="0.8" fill="url(#gbox)"/><rect x="470.1" y="468.2" width="14.2" height="2" fill="#5a5f68"/><circle cx="477.8" cy="475.8" r="3.6" fill="#3a3e46" stroke="#e6e8ec" stroke-width="1"/><path d="M475.4 478.6 l-3.6 3.8" stroke="#fff" stroke-width="1.5"/><path d="M471.5 483.2 h11.4 M471.5 485.8 h11.4" stroke="#8d939c" stroke-width="0.9" stroke-dasharray="2.4 1"/><rect x="514" y="468.2" width="14.2" height="20.8" rx="0.8" fill="url(#gbox)"/><rect x="514" y="468.2" width="14.2" height="2" fill="#5a5f68"/><circle cx="521.7" cy="475.8" r="3.6" fill="#3a3e46" stroke="#e6e8ec" stroke-width="1"/><path d="M519.3 478.6 l-3.6 3.8" stroke="#fff" stroke-width="1.5"/><path d="M515.4 483.2 h11.4 M515.4 485.8 h11.4" stroke="#8d939c" stroke-width="0.9" stroke-dasharray="2.4 1"/><path d="M73 509.9 l2 -6 h16.8 l2 6 z" fill="#676c76"/><path d="M76.6 505.7 h13.6 M75.8 507.8 h15.2" stroke="#e2e5ea" stroke-width="1.1" stroke-dasharray="4 0.5"/><rect x="73" y="509.7" width="20.8" height="8" fill="url(#gsw)"/><path d="M111.1 509.9 l2 -6 h16.8 l2 6 z" fill="#676c76"/><path d="M114.7 505.7 h13.6 M113.9 507.8 h15.2" stroke="#e2e5ea" stroke-width="1.1" stroke-dasharray="4 0.5"/><rect x="111.1" y="509.7" width="20.8" height="8" fill="url(#gsw)"/><rect x="149.2" y="500.7" width="20.2" height="18" rx="1" fill="url(#grb)"/><rect x="149.2" y="500.7" width="20.2" height="2.2" fill="#5a5f69"/><circle cx="159.3" cy="510.5" r="3.7" fill="#fff"/><circle cx="165.3" cy="510.5" r="0.85" fill="#e4e6ea"/><circle cx="163.54" cy="514.74" r="0.85" fill="#e4e6ea"/><circle cx="159.3" cy="516.5" r="0.85" fill="#e4e6ea"/><circle cx="155.06" cy="514.74" r="0.85" fill="#e4e6ea"/><circle cx="153.3" cy="510.5" r="0.85" fill="#e4e6ea"/><circle cx="155.06" cy="506.26" r="0.85" fill="#e4e6ea"/><circle cx="159.3" cy="504.5" r="0.85" fill="#e4e6ea"/><circle cx="163.54" cy="506.26" r="0.85" fill="#e4e6ea"/><path d="M111.1 542 l2 -6 h16.8 l2 6 z" fill="#676c76"/><path d="M114.7 537.8 h13.6 M113.9 539.9 h15.2" stroke="#e2e5ea" stroke-width="1.1" stroke-dasharray="4 0.5"/><rect x="111.1" y="541.8" width="20.8" height="8" fill="url(#gsw)"/><rect x="149.2" y="532.8" width="20.2" height="18" rx="1" fill="url(#grb)"/><rect x="149.2" y="532.8" width="20.2" height="2.2" fill="#5a5f69"/><circle cx="159.3" cy="542.6" r="3.7" fill="#fff"/><circle cx="165.3" cy="542.6" r="0.85" fill="#e4e6ea"/><circle cx="163.54" cy="546.84" r="0.85" fill="#e4e6ea"/><circle cx="159.3" cy="548.6" r="0.85" fill="#e4e6ea"/><circle cx="155.06" cy="546.84" r="0.85" fill="#e4e6ea"/><circle cx="153.3" cy="542.6" r="0.85" fill="#e4e6ea"/><circle cx="155.06" cy="538.36" r="0.85" fill="#e4e6ea"/><circle cx="159.3" cy="536.6" r="0.85" fill="#e4e6ea"/><circle cx="163.54" cy="538.36" r="0.85" fill="#e4e6ea"/><path d="M79.6 579 l2 -6 h16.8 l2 6 z" fill="#676c76"/><path d="M83.2 574.8 h13.6 M82.4 576.9 h15.2" stroke="#e2e5ea" stroke-width="1.1" stroke-dasharray="4 0.5"/><rect x="79.6" y="578.8" width="20.8" height="8" fill="url(#gsw)"/><path d="M136.5 579 l2 -6 h16.8 l2 6 z" fill="#676c76"/><path d="M140.1 574.8 h13.6 M139.3 576.9 h15.2" stroke="#e2e5ea" stroke-width="1.1" stroke-dasharray="4 0.5"/><rect x="136.5" y="578.8" width="20.8" height="8" fill="url(#gsw)"/><path d="M193.5 519.6 v4.8 a10.3 3.2 0 0 0 20.6 0 v-4.8 z" fill="url(#gcyl)"/><ellipse cx="203.8" cy="519.7" rx="10.1" ry="3.1" fill="#747983" stroke="#90959f" stroke-width="0.4"/><path d="M199.6 519.7 h8.4 M203.8 517.8 v3.8 M201 518.3 l5.6 2.8 M206.6 518.3 l-5.6 2.8" stroke="#eceef2" stroke-width="0.7" fill="none"/><path d="M225.2 519.6 v4.8 a10.3 3.2 0 0 0 20.6 0 v-4.8 z" fill="url(#gcyl)"/><ellipse cx="235.5" cy="519.7" rx="10.1" ry="3.1" fill="#747983" stroke="#90959f" stroke-width="0.4"/><path d="M231.3 519.7 h8.4 M235.5 517.8 v3.8 M232.7 518.3 l5.6 2.8 M238.3 518.3 l-5.6 2.8" stroke="#eceef2" stroke-width="0.7" fill="none"/><path d="M257.1 519.6 v4.8 a10.3 3.2 0 0 0 20.6 0 v-4.8 z" fill="url(#gcyl)"/><ellipse cx="267.4" cy="519.7" rx="10.1" ry="3.1" fill="#747983" stroke="#90959f" stroke-width="0.4"/><path d="M263.2 519.7 h8.4 M267.4 517.8 v3.8 M264.6 518.3 l5.6 2.8 M270.2 518.3 l-5.6 2.8" stroke="#eceef2" stroke-width="0.7" fill="none"/><rect x="288.9" y="514" width="20.2" height="18" rx="1" fill="url(#grb)"/><rect x="288.9" y="514" width="20.2" height="2.2" fill="#5a5f69"/><circle cx="299" cy="523.8" r="3.7" fill="#fff"/><circle cx="305" cy="523.8" r="0.85" fill="#e4e6ea"/><circle cx="303.24" cy="528.04" r="0.85" fill="#e4e6ea"/><circle cx="299" cy="529.8" r="0.85" fill="#e4e6ea"/><circle cx="294.76" cy="528.04" r="0.85" fill="#e4e6ea"/><circle cx="293" cy="523.8" r="0.85" fill="#e4e6ea"/><circle cx="294.76" cy="519.56" r="0.85" fill="#e4e6ea"/><circle cx="299" cy="517.8" r="0.85" fill="#e4e6ea"/><circle cx="303.24" cy="519.56" r="0.85" fill="#e4e6ea"/><path d="M250.3 559.9 l2 -6 h16.8 l2 6 z" fill="#676c76"/><path d="M253.9 555.7 h13.6 M253.1 557.8 h15.2" stroke="#e2e5ea" stroke-width="1.1" stroke-dasharray="4 0.5"/><rect x="250.3" y="559.7" width="20.8" height="8" fill="url(#gsw)"/><path d="M288.7 557.8 v4.8 a10.3 3.2 0 0 0 20.6 0 v-4.8 z" fill="url(#gcyl)"/><ellipse cx="299" cy="557.9" rx="10.1" ry="3.1" fill="#747983" stroke="#90959f" stroke-width="0.4"/><path d="M294.8 557.9 h8.4 M299 556 v3.8 M296.2 556.5 l5.6 2.8 M301.8 556.5 l-5.6 2.8" stroke="#eceef2" stroke-width="0.7" fill="none"/><path d="M326.3 520.6 l2 -6 h16.8 l2 6 z" fill="#676c76"/><path d="M329.9 516.4 h13.6 M329.1 518.5 h15.2" stroke="#e2e5ea" stroke-width="1.1" stroke-dasharray="4 0.5"/><rect x="326.3" y="520.4" width="20.8" height="8" fill="url(#gsw)"/><path d="M326.3 547.5 l2 -6 h16.8 l2 6 z" fill="#676c76"/><path d="M329.9 543.3 h13.6 M329.1 545.4 h15.2" stroke="#e2e5ea" stroke-width="1.1" stroke-dasharray="4 0.5"/><rect x="326.3" y="547.3" width="20.8" height="8" fill="url(#gsw)"/><path d="M326.3 579.2 l2 -6 h16.8 l2 6 z" fill="#676c76"/><path d="M329.9 575 h13.6 M329.1 577.1 h15.2" stroke="#e2e5ea" stroke-width="1.1" stroke-dasharray="4 0.5"/><rect x="326.3" y="579" width="20.8" height="8" fill="url(#gsw)"/><circle cx="139.9" cy="321.5" r="5.2" fill="url(#gchk)"/><ellipse cx="139.9" cy="319.32" rx="4.06" ry="2.6" fill="#fff" fill-opacity="0.16"/><path d="M137.7 321.8 l1.5 1.7 l3 -3.9" fill="none" stroke="#fff" stroke-width="1.15" stroke-linecap="round" stroke-linejoin="round"/><circle cx="184.8" cy="321.5" r="5.2" fill="url(#gchk)"/><ellipse cx="184.8" cy="319.32" rx="4.06" ry="2.6" fill="#fff" fill-opacity="0.16"/><path d="M182.6 321.8 l1.5 1.7 l3 -3.9" fill="none" stroke="#fff" stroke-width="1.15" stroke-linecap="round" stroke-linejoin="round"/><circle cx="250.6" cy="325" r="5.2" fill="url(#gchk)"/><ellipse cx="250.6" cy="322.82" rx="4.06" ry="2.6" fill="#fff" fill-opacity="0.16"/><path d="M248.4 325.3 l1.5 1.7 l3 -3.9" fill="none" stroke="#fff" stroke-width="1.15" stroke-linecap="round" stroke-linejoin="round"/><circle cx="221" cy="363.6" r="5.2" fill="url(#gchk)"/><ellipse cx="221" cy="361.42" rx="4.06" ry="2.6" fill="#fff" fill-opacity="0.16"/><path d="M218.8 363.9 l1.5 1.7 l3 -3.9" fill="none" stroke="#fff" stroke-width="1.15" stroke-linecap="round" stroke-linejoin="round"/><circle cx="370.8" cy="324.4" r="5.2" fill="url(#gchk)"/><ellipse cx="370.8" cy="322.22" rx="4.06" ry="2.6" fill="#fff" fill-opacity="0.16"/><path d="M368.6 324.7 l1.5 1.7 l3 -3.9" fill="none" stroke="#fff" stroke-width="1.15" stroke-linecap="round" stroke-linejoin="round"/><circle cx="370.2" cy="364.8" r="5.2" fill="url(#gchk)"/><ellipse cx="370.2" cy="362.62" rx="4.06" ry="2.6" fill="#fff" fill-opacity="0.16"/><path d="M368 365.1 l1.5 1.7 l3 -3.9" fill="none" stroke="#fff" stroke-width="1.15" stroke-linecap="round" stroke-linejoin="round"/><circle cx="461" cy="379.2" r="5.2" fill="url(#gchk)"/><ellipse cx="461" cy="377.02" rx="4.06" ry="2.6" fill="#fff" fill-opacity="0.16"/><path d="M458.8 379.5 l1.5 1.7 l3 -3.9" fill="none" stroke="#fff" stroke-width="1.15" stroke-linecap="round" stroke-linejoin="round"/><circle cx="535.9" cy="379.2" r="5.2" fill="url(#gchk)"/><ellipse cx="535.9" cy="377.02" rx="4.06" ry="2.6" fill="#fff" fill-opacity="0.16"/><path d="M533.7 379.5 l1.5 1.7 l3 -3.9" fill="none" stroke="#fff" stroke-width="1.15" stroke-linecap="round" stroke-linejoin="round"/><circle cx="195" cy="435.9" r="5.2" fill="url(#gchk)"/><ellipse cx="195" cy="433.72" rx="4.06" ry="2.6" fill="#fff" fill-opacity="0.16"/><path d="M192.8 436.2 l1.5 1.7 l3 -3.9" fill="none" stroke="#fff" stroke-width="1.15" stroke-linecap="round" stroke-linejoin="round"/><circle cx="276.5" cy="436.7" r="5.2" fill="url(#gchk)"/><ellipse cx="276.5" cy="434.52" rx="4.06" ry="2.6" fill="#fff" fill-opacity="0.16"/><path d="M274.3 437 l1.5 1.7 l3 -3.9" fill="none" stroke="#fff" stroke-width="1.15" stroke-linecap="round" stroke-linejoin="round"/><circle cx="147" cy="453" r="5.2" fill="url(#gchk)"/><ellipse cx="147" cy="450.82" rx="4.06" ry="2.6" fill="#fff" fill-opacity="0.16"/><path d="M144.8 453.3 l1.5 1.7 l3 -3.9" fill="none" stroke="#fff" stroke-width="1.15" stroke-linecap="round" stroke-linejoin="round"/><circle cx="318.4" cy="452.8" r="5.2" fill="url(#gchk)"/><ellipse cx="318.4" cy="450.62" rx="4.06" ry="2.6" fill="#fff" fill-opacity="0.16"/><path d="M316.2 453.1 l1.5 1.7 l3 -3.9" fill="none" stroke="#fff" stroke-width="1.15" stroke-linecap="round" stroke-linejoin="round"/><circle cx="224" cy="478.3" r="5.2" fill="url(#gchk)"/><ellipse cx="224" cy="476.12" rx="4.06" ry="2.6" fill="#fff" fill-opacity="0.16"/><path d="M221.8 478.6 l1.5 1.7 l3 -3.9" fill="none" stroke="#fff" stroke-width="1.15" stroke-linecap="round" stroke-linejoin="round"/><circle cx="248.4" cy="477.6" r="5.2" fill="url(#gchk)"/><ellipse cx="248.4" cy="475.42" rx="4.06" ry="2.6" fill="#fff" fill-opacity="0.16"/><path d="M246.2 477.9 l1.5 1.7 l3 -3.9" fill="none" stroke="#fff" stroke-width="1.15" stroke-linecap="round" stroke-linejoin="round"/><circle cx="345.8" cy="444.5" r="5.2" fill="url(#gchk)"/><ellipse cx="345.8" cy="442.32" rx="4.06" ry="2.6" fill="#fff" fill-opacity="0.16"/><path d="M343.6 444.8 l1.5 1.7 l3 -3.9" fill="none" stroke="#fff" stroke-width="1.15" stroke-linecap="round" stroke-linejoin="round"/><circle cx="417" cy="444.2" r="5.2" fill="url(#gchk)"/><ellipse cx="417" cy="442.02" rx="4.06" ry="2.6" fill="#fff" fill-opacity="0.16"/><path d="M414.8 444.5 l1.5 1.7 l3 -3.9" fill="none" stroke="#fff" stroke-width="1.15" stroke-linecap="round" stroke-linejoin="round"/><circle cx="345.2" cy="480.3" r="5.2" fill="url(#gchk)"/><ellipse cx="345.2" cy="478.12" rx="4.06" ry="2.6" fill="#fff" fill-opacity="0.16"/><path d="M343 480.6 l1.5 1.7 l3 -3.9" fill="none" stroke="#fff" stroke-width="1.15" stroke-linecap="round" stroke-linejoin="round"/><circle cx="418.7" cy="480.3" r="5.2" fill="url(#gchk)"/><ellipse cx="418.7" cy="478.12" rx="4.06" ry="2.6" fill="#fff" fill-opacity="0.16"/><path d="M416.5 480.6 l1.5 1.7 l3 -3.9" fill="none" stroke="#fff" stroke-width="1.15" stroke-linecap="round" stroke-linejoin="round"/><circle cx="464.2" cy="449" r="5.2" fill="url(#gchk)"/><ellipse cx="464.2" cy="446.82" rx="4.06" ry="2.6" fill="#fff" fill-opacity="0.16"/><path d="M462 449.3 l1.5 1.7 l3 -3.9" fill="none" stroke="#fff" stroke-width="1.15" stroke-linecap="round" stroke-linejoin="round"/><circle cx="533.5" cy="448.3" r="5.2" fill="url(#gchk)"/><ellipse cx="533.5" cy="446.12" rx="4.06" ry="2.6" fill="#fff" fill-opacity="0.16"/><path d="M531.3 448.6 l1.5 1.7 l3 -3.9" fill="none" stroke="#fff" stroke-width="1.15" stroke-linecap="round" stroke-linejoin="round"/><circle cx="464.8" cy="493.1" r="5.2" fill="url(#gchk)"/><ellipse cx="464.8" cy="490.92" rx="4.06" ry="2.6" fill="#fff" fill-opacity="0.16"/><path d="M462.6 493.4 l1.5 1.7 l3 -3.9" fill="none" stroke="#fff" stroke-width="1.15" stroke-linecap="round" stroke-linejoin="round"/><circle cx="96.2" cy="498.2" r="5.2" fill="url(#gchk)"/><ellipse cx="96.2" cy="496.02" rx="4.06" ry="2.6" fill="#fff" fill-opacity="0.16"/><path d="M94 498.5 l1.5 1.7 l3 -3.9" fill="none" stroke="#fff" stroke-width="1.15" stroke-linecap="round" stroke-linejoin="round"/><circle cx="133.5" cy="497.8" r="5.2" fill="url(#gchk)"/><ellipse cx="133.5" cy="495.62" rx="4.06" ry="2.6" fill="#fff" fill-opacity="0.16"/><path d="M131.3 498.1 l1.5 1.7 l3 -3.9" fill="none" stroke="#fff" stroke-width="1.15" stroke-linecap="round" stroke-linejoin="round"/><circle cx="174.4" cy="498.3" r="5.2" fill="url(#gchk)"/><ellipse cx="174.4" cy="496.12" rx="4.06" ry="2.6" fill="#fff" fill-opacity="0.16"/><path d="M172.2 498.6 l1.5 1.7 l3 -3.9" fill="none" stroke="#fff" stroke-width="1.15" stroke-linecap="round" stroke-linejoin="round"/><circle cx="134.5" cy="531.4" r="5.2" fill="url(#gchk)"/><ellipse cx="134.5" cy="529.22" rx="4.06" ry="2.6" fill="#fff" fill-opacity="0.16"/><path d="M132.3 531.7 l1.5 1.7 l3 -3.9" fill="none" stroke="#fff" stroke-width="1.15" stroke-linecap="round" stroke-linejoin="round"/><circle cx="173.4" cy="530" r="5.2" fill="url(#gchk)"/><ellipse cx="173.4" cy="527.82" rx="4.06" ry="2.6" fill="#fff" fill-opacity="0.16"/><path d="M171.2 530.3 l1.5 1.7 l3 -3.9" fill="none" stroke="#fff" stroke-width="1.15" stroke-linecap="round" stroke-linejoin="round"/><circle cx="77" cy="568.6" r="5.2" fill="url(#gchk)"/><ellipse cx="77" cy="566.42" rx="4.06" ry="2.6" fill="#fff" fill-opacity="0.16"/><path d="M74.8 568.9 l1.5 1.7 l3 -3.9" fill="none" stroke="#fff" stroke-width="1.15" stroke-linecap="round" stroke-linejoin="round"/><circle cx="158.9" cy="569" r="5.2" fill="url(#gchk)"/><ellipse cx="158.9" cy="566.82" rx="4.06" ry="2.6" fill="#fff" fill-opacity="0.16"/><path d="M156.7 569.3 l1.5 1.7 l3 -3.9" fill="none" stroke="#fff" stroke-width="1.15" stroke-linecap="round" stroke-linejoin="round"/><circle cx="204.2" cy="535.6" r="5.2" fill="url(#gchk)"/><ellipse cx="204.2" cy="533.42" rx="4.06" ry="2.6" fill="#fff" fill-opacity="0.16"/><path d="M202 535.9 l1.5 1.7 l3 -3.9" fill="none" stroke="#fff" stroke-width="1.15" stroke-linecap="round" stroke-linejoin="round"/><circle cx="235.5" cy="535.6" r="5.2" fill="url(#gchk)"/><ellipse cx="235.5" cy="533.42" rx="4.06" ry="2.6" fill="#fff" fill-opacity="0.16"/><path d="M233.3 535.9 l1.5 1.7 l3 -3.9" fill="none" stroke="#fff" stroke-width="1.15" stroke-linecap="round" stroke-linejoin="round"/><circle cx="267.4" cy="535.6" r="5.2" fill="url(#gchk)"/><ellipse cx="267.4" cy="533.42" rx="4.06" ry="2.6" fill="#fff" fill-opacity="0.16"/><path d="M265.2 535.9 l1.5 1.7 l3 -3.9" fill="none" stroke="#fff" stroke-width="1.15" stroke-linecap="round" stroke-linejoin="round"/><circle cx="311.8" cy="510" r="5.2" fill="url(#gchk)"/><ellipse cx="311.8" cy="507.82" rx="4.06" ry="2.6" fill="#fff" fill-opacity="0.16"/><path d="M309.6 510.3 l1.5 1.7 l3 -3.9" fill="none" stroke="#fff" stroke-width="1.15" stroke-linecap="round" stroke-linejoin="round"/><circle cx="349.7" cy="509.4" r="5.2" fill="url(#gchk)"/><ellipse cx="349.7" cy="507.22" rx="4.06" ry="2.6" fill="#fff" fill-opacity="0.16"/><path d="M347.5 509.7 l1.5 1.7 l3 -3.9" fill="none" stroke="#fff" stroke-width="1.15" stroke-linecap="round" stroke-linejoin="round"/><circle cx="349.3" cy="536.3" r="5.2" fill="url(#gchk)"/><ellipse cx="349.3" cy="534.12" rx="4.06" ry="2.6" fill="#fff" fill-opacity="0.16"/><path d="M347.1 536.6 l1.5 1.7 l3 -3.9" fill="none" stroke="#fff" stroke-width="1.15" stroke-linecap="round" stroke-linejoin="round"/><circle cx="348.7" cy="568" r="5.2" fill="url(#gchk)"/><ellipse cx="348.7" cy="565.82" rx="4.06" ry="2.6" fill="#fff" fill-opacity="0.16"/><path d="M346.5 568.3 l1.5 1.7 l3 -3.9" fill="none" stroke="#fff" stroke-width="1.15" stroke-linecap="round" stroke-linejoin="round"/><circle cx="432.9" cy="320.6" r="5" fill="url(#gwrn)"/><circle cx="432.9" cy="319.4" r="1.9" fill="#fde9bd"/><path d="M432.3 321 l-2 4 M433.5 321 l2 4" stroke="#fde9bd" stroke-width="1.4"/><circle cx="533.9" cy="492.5" r="5" fill="url(#gwrn)"/><circle cx="533.9" cy="491.3" r="1.9" fill="#fde9bd"/><path d="M533.3 492.9 l-2 4 M534.5 492.9 l2 4" stroke="#fde9bd" stroke-width="1.4"/><circle cx="246.7" cy="572.1" r="5" fill="url(#gwrn)"/><circle cx="246.7" cy="570.9" r="1.9" fill="#fde9bd"/><path d="M246.1 572.5 l-2 4 M247.3 572.5 l2 4" stroke="#fde9bd" stroke-width="1.4"/><circle cx="285.2" cy="571.5" r="5" fill="url(#gwrn)"/><circle cx="285.2" cy="570.3" r="1.9" fill="#fde9bd"/><path d="M284.6 571.9 l-2 4 M285.8 571.9 l2 4" stroke="#fde9bd" stroke-width="1.4"/><text x="516.9" y="303" text-anchor="start" font-size="5.2" fill="#111" font-weight="bold">Cable</text><text x="516.9" y="319.4" text-anchor="start" font-size="5.2" fill="#111" font-weight="bold">Wireless</text><text x="218" y="309" text-anchor="middle" font-size="3.6" fill="#8a8d93">DSL</text><text x="375" y="307.5" text-anchor="middle" font-size="3.6" fill="#8a8d93">ISP</text><text x="158" y="326" text-anchor="middle" font-size="3.6" fill="#8a8d93">CGN 1</text><text x="203" y="326" text-anchor="middle" font-size="3.6" fill="#8a8d93">CGN 2</text><text x="221" y="334.5" text-anchor="middle" font-size="3.6" fill="#8a8d93">R1</text><text x="356" y="347" text-anchor="middle" font-size="3.6" fill="#8a8d93">R2</text><text x="419.6" y="347" text-anchor="middle" font-size="3.6" fill="#8a8d93">Pwr. App</text><text x="221.5" y="372.5" text-anchor="middle" font-size="3.6" fill="#8a8d93">CS1</text><text x="371" y="373" text-anchor="middle" font-size="3.6" fill="#8a8d93">CS2</text><text x="476.3" y="372.8" text-anchor="middle" font-size="3.6" fill="#8a8d93">secur-kx1</text><text x="520.4" y="372.8" text-anchor="middle" font-size="3.6" fill="#8a8d93">secur-kx2</text><text x="195" y="429.5" text-anchor="middle" font-size="3.6" fill="#8a8d93">BNG1</text><text x="277" y="429.5" text-anchor="middle" font-size="3.6" fill="#8a8d93">BNG2</text><text x="144" y="441.5" text-anchor="middle" font-size="3.6" fill="#8a8d93">RL1</text><text x="321" y="441.5" text-anchor="middle" font-size="3.6" fill="#8a8d93">RL2</text><text x="196" y="467.5" text-anchor="middle" font-size="3.6" fill="#8a8d93">CR1</text><text x="275.5" y="467" text-anchor="middle" font-size="3.6" fill="#8a8d93">CR2</text><text x="339" y="433.5" text-anchor="middle" font-size="3.6" fill="#8a8d93">Office</text><text x="339" y="437.5" text-anchor="middle" font-size="3.6" fill="#8a8d93">FW1</text><text x="423" y="433.2" text-anchor="middle" font-size="3.6" fill="#8a8d93">Office</text><text x="423" y="437.2" text-anchor="middle" font-size="3.6" fill="#8a8d93">FW2</text><text x="355.9" y="480" text-anchor="middle" font-size="3.6" fill="#8a8d93">Office</text><text x="355.9" y="484" text-anchor="middle" font-size="3.6" fill="#8a8d93">SW1</text><text x="406.9" y="480" text-anchor="middle" font-size="3.6" fill="#8a8d93">Office</text><text x="406.9" y="484" text-anchor="middle" font-size="3.6" fill="#8a8d93">SW2</text><text x="461.5" y="435" text-anchor="middle" font-size="3.6" fill="#8a8d93">DC1</text><text x="535" y="435" text-anchor="middle" font-size="3.6" fill="#8a8d93">DC2</text><text x="461.8" y="477.5" text-anchor="middle" font-size="3.6" fill="#8a8d93">ASA</text><text x="461.8" y="481.7" text-anchor="middle" font-size="3.6" fill="#8a8d93">FW1</text><text x="535.5" y="477.5" text-anchor="middle" font-size="3.6" fill="#8a8d93">ASA</text><text x="535.5" y="481.7" text-anchor="middle" font-size="3.6" fill="#8a8d93">FW2</text><text x="503.5" y="538.2" text-anchor="middle" font-size="3.6" fill="#8a8d93">DMZ</text><text x="83.4" y="524.5" text-anchor="middle" font-size="3.6" fill="#8a8d93">SL</text><text x="121.5" y="524.5" text-anchor="middle" font-size="3.6" fill="#8a8d93">SL</text><text x="159.3" y="524.5" text-anchor="middle" font-size="3.6" fill="#8a8d93">RI SL</text><text x="106" y="544" text-anchor="middle" font-size="3.6" fill="#8a8d93">CPUN</text><text x="159.3" y="556.5" text-anchor="middle" font-size="3.6" fill="#8a8d93">RA. CPUN</text><text x="90" y="594" text-anchor="middle" font-size="3.6" fill="#8a8d93">SWB</text><text x="146.9" y="594" text-anchor="middle" font-size="3.6" fill="#8a8d93">SWD</text><text x="203.8" y="509.6" text-anchor="middle" font-size="3.6" fill="#8a8d93">AG 05</text><text x="235.5" y="509.6" text-anchor="middle" font-size="3.6" fill="#8a8d93">AG 006</text><text x="267.4" y="509.6" text-anchor="middle" font-size="3.6" fill="#8a8d93">AP RAN</text><text x="298" y="509.6" text-anchor="middle" font-size="3.6" fill="#8a8d93">PE RAN</text><text x="261" y="575.6" text-anchor="middle" font-size="3.6" fill="#8a8d93">Peoples</text><text x="261" y="579.4" text-anchor="middle" font-size="3.6" fill="#8a8d93">Park</text><text x="299.5" y="575.6" text-anchor="middle" font-size="3.6" fill="#8a8d93">Inwmet</text><text x="351.5" y="522" text-anchor="middle" font-size="3.6" fill="#8a8d93">PNS</text><text x="351.5" y="548.8" text-anchor="middle" font-size="3.6" fill="#8a8d93">RLN</text><text x="353" y="581" text-anchor="middle" font-size="3.6" fill="#8a8d93">Rmss</text>
</svg></body></html>
